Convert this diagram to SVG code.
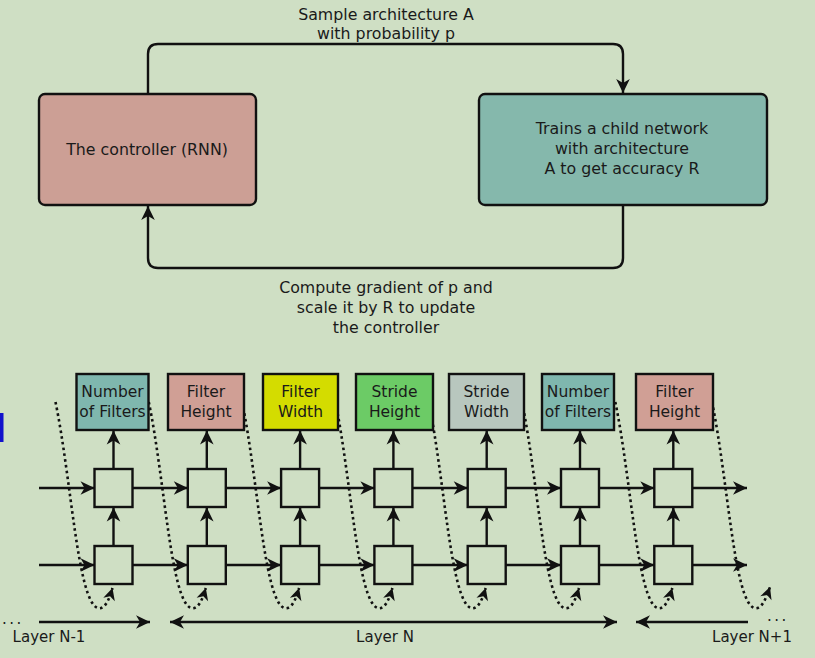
<svg xmlns="http://www.w3.org/2000/svg" width="815" height="658" viewBox="0 0 815 658">
<defs>
<style>
text{font-family:"DejaVu Sans","Liberation Sans",sans-serif;fill:#1a1a1a;text-anchor:middle}
.t16{font-size:15.8px}
.t15{font-size:15.5px}
.lbl{font-size:15px}
.ln{fill:none;stroke:#111;stroke-width:2.4}
.dot{fill:none;stroke:#111;stroke-width:2.6;stroke-dasharray:2.6 3.2}
.cell{fill:#cfdfc4;stroke:#111;stroke-width:2.4}
.box{stroke:#111;stroke-width:2.4}
</style>
<marker id="ah" markerUnits="userSpaceOnUse" viewBox="-15 -8 16 16" refX="0" refY="0" markerWidth="16" markerHeight="16" orient="auto">
<path d="M0,0 L-14,-6.8 L-10,0 L-14,6.8 Z" fill="#111"/>
</marker>
<marker id="ahs" markerUnits="userSpaceOnUse" viewBox="-13 -7 14 14" refX="0" refY="0" markerWidth="14" markerHeight="14" orient="auto">
<path d="M0,0 L-12,-6 L-8.5,0 L-12,6 Z" fill="#111"/>
</marker>
</defs>
<rect x="0" y="0" width="815" height="658" fill="#cfdfc4"/>
<rect x="0" y="413" width="3.5" height="29" fill="#1212cc"/>

<g id="connectors">
<path class="ln" d="M148,94 V54 Q148,44 158,44 H613 Q623,44 623,54 V93" marker-end="url(#ah)"/>
<path class="ln" d="M623,205 V258 Q623,268 613,268 H158 Q148,268 148,258 V206" marker-end="url(#ah)"/>
<g class="ln" marker-end="url(#ah)">
<path d="M39,488 H94.5"/>
<path d="M132.5,488 H187.8"/>
<path d="M225.8,488 H281.1"/>
<path d="M319.1,488 H374.4"/>
<path d="M412.4,488 H467.7"/>
<path d="M505.7,488 H561"/>
<path d="M599,488 H654.3"/>
<path d="M692.3,488 H747"/>
<path d="M39,565 H94.5"/>
<path d="M132.5,565 H187.8"/>
<path d="M225.8,565 H281.1"/>
<path d="M319.1,565 H374.4"/>
<path d="M412.4,565 H467.7"/>
<path d="M505.7,565 H561"/>
<path d="M599,565 H654.3"/>
<path d="M692.3,565 H747"/>
<path d="M113.5,546 V507.5"/><path d="M113.5,469 V430.5"/>
<path d="M206.8,546 V507.5"/><path d="M206.8,469 V430.5"/>
<path d="M300.1,546 V507.5"/><path d="M300.1,469 V430.5"/>
<path d="M393.4,546 V507.5"/><path d="M393.4,469 V430.5"/>
<path d="M486.7,546 V507.5"/><path d="M486.7,469 V430.5"/>
<path d="M580,546 V507.5"/><path d="M580,469 V430.5"/>
<path d="M673.3,546 V507.5"/><path d="M673.3,469 V430.5"/>
<path d="M39,622 H150"/>
<path d="M748,622 H636"/>
<path d="M393,622 H617"/>
<path d="M393,622 H170"/>
</g>
<g class="dot" marker-end="url(#ahs)">
<path d="M55.5,402 C71.5,480 77.5,600 97.5,608 C105.5,610 109.5,598 112.5,588"/>
<path d="M148.8,402 C164.8,480 170.8,600 190.8,608 C198.8,610 202.8,598 205.8,588"/>
<path d="M242.1,402 C258.1,480 264.1,600 284.1,608 C292.1,610 296.1,598 299.1,588"/>
<path d="M335.4,402 C351.4,480 357.4,600 377.4,608 C385.4,610 389.4,598 392.4,588"/>
<path d="M428.7,402 C444.7,480 450.7,600 470.7,608 C478.7,610 482.7,598 485.7,588"/>
<path d="M522,402 C538,480 544,600 564,608 C572,610 576,598 579,588"/>
<path d="M615.3,402 C631.3,480 637.3,600 657.3,608 C665.3,610 669.3,598 672.3,588"/>
<path d="M712,402 C728,480 734,600 754,608 C762,610 766,598 770,587"/>
</g>
</g>

<g id="controller">
<rect class="box" x="39" y="94" width="217" height="111" rx="6" fill="#cc9f95"/>
<text class="t16" x="147" y="155">The controller (RNN)</text>
</g>
<g id="child">
<rect class="box" x="479" y="94" width="288" height="111" rx="6" fill="#85b8ac"/>
<text class="t16" x="622" y="134">Trains a child network</text>
<text class="t16" x="622" y="154">with architecture</text>
<text class="t16" x="622" y="174">A to get accuracy R</text>
</g>
<g id="label-sample">
<text class="t16" x="386" y="20">Sample architecture A</text>
<text class="t16" x="386" y="39">with probability p</text>
</g>
<g id="label-gradient">
<text class="t16" x="386" y="293">Compute gradient of p and</text>
<text class="t16" x="386" y="313">scale it by R to update</text>
<text class="t16" x="386" y="333">the controller</text>
</g>

<g id="box1"><rect class="box" x="76.5" y="374" width="72" height="56" fill="#7fb7ae"/><text class="t15" x="112.5" y="397">Number</text><text class="t15" x="112.5" y="417">of Filters</text></g>
<g id="box2"><rect class="box" x="168" y="374" width="76" height="56" fill="#d09f95"/><text class="t15" x="206" y="397">Filter</text><text class="t15" x="206" y="417">Height</text></g>
<g id="box3"><rect class="box" x="263" y="374" width="75" height="56" fill="#d4dc00"/><text class="t15" x="300.5" y="397">Filter</text><text class="t15" x="300.5" y="417">Width</text></g>
<g id="box4"><rect class="box" x="356" y="374" width="77" height="56" fill="#6ccb66"/><text class="t15" x="394.5" y="397">Stride</text><text class="t15" x="394.5" y="417">Height</text></g>
<g id="box5"><rect class="box" x="449" y="374" width="75" height="56" fill="#b8c7be"/><text class="t15" x="486.5" y="397">Stride</text><text class="t15" x="486.5" y="417">Width</text></g>
<g id="box6"><rect class="box" x="542" y="374" width="72" height="56" fill="#7fb7ae"/><text class="t15" x="578" y="397">Number</text><text class="t15" x="578" y="417">of Filters</text></g>
<g id="box7"><rect class="box" x="636" y="374" width="77" height="56" fill="#d09f95"/><text class="t15" x="674.5" y="397">Filter</text><text class="t15" x="674.5" y="417">Height</text></g>

<g id="cells">
<rect class="cell" x="94.5" y="469" width="38" height="38"/><rect class="cell" x="94.5" y="546" width="38" height="38"/>
<rect class="cell" x="187.8" y="469" width="38" height="38"/><rect class="cell" x="187.8" y="546" width="38" height="38"/>
<rect class="cell" x="281.1" y="469" width="38" height="38"/><rect class="cell" x="281.1" y="546" width="38" height="38"/>
<rect class="cell" x="374.4" y="469" width="38" height="38"/><rect class="cell" x="374.4" y="546" width="38" height="38"/>
<rect class="cell" x="467.7" y="469" width="38" height="38"/><rect class="cell" x="467.7" y="546" width="38" height="38"/>
<rect class="cell" x="561" y="469" width="38" height="38"/><rect class="cell" x="561" y="546" width="38" height="38"/>
<rect class="cell" x="654.3" y="469" width="38" height="38"/><rect class="cell" x="654.3" y="546" width="38" height="38"/>
</g>

<g id="layer-labels">
<text class="lbl" x="2" y="624" style="text-anchor:start;letter-spacing:2.5px">...</text>
<text class="lbl" x="49" y="642">Layer N-1</text>
<text class="lbl" x="385" y="642">Layer N</text>
<text class="lbl" x="767" y="621" style="text-anchor:start;letter-spacing:2.5px">...</text>
<text class="lbl" x="752" y="642">Layer N+1</text>
</g>
</svg>
